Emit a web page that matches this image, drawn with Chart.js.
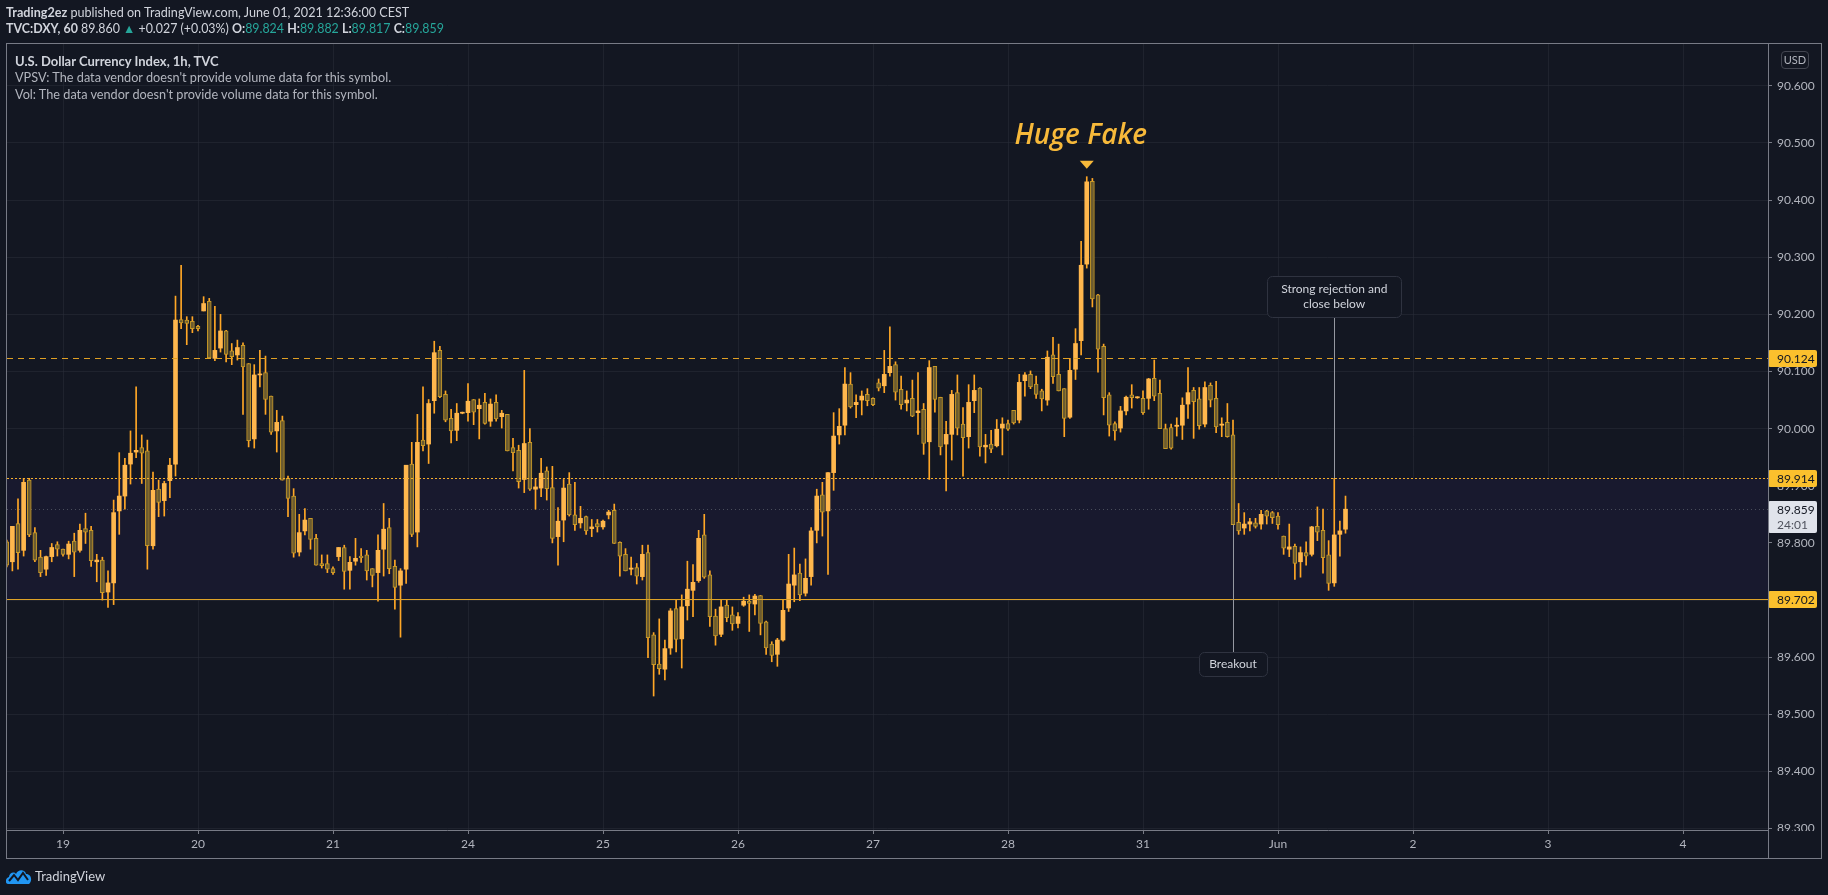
<!DOCTYPE html>
<html lang="en">
<head>
  <meta charset="UTF-8">
  <title>TVC:DXY 1h - Huge Fake</title>
  <script src="https://cdn.jsdelivr.net/npm/chart.js"></script>
  <style>
    body, html {
      margin: 0;
      padding: 0;
      background: #131722;
      overflow: hidden;
    }

    .wrap {
      position: relative;
      width: 1828px;
      height: 895px;
      font-family: Lato, "Open Sans", sans-serif;
    }

    canvas {
      position: absolute;
      left: 0;
      top: 0;
    }

    .txt {
      position: absolute;
      white-space: nowrap;
      font-size: 13px;
      line-height: 16px;
      color: #d1d4dc;
    }

    .hdr { font-size: 12.6px; }
    .txt b { font-weight: 700; }
    .up { color: #26a69a; }
    .dim { color: #b2b5be; font-size: 12.7px; }

    .usd {
      position: absolute;
      left: 1781px;
      top: 51px;
      width: 26px;
      height: 16px;
      border: 1px solid #434651;
      border-radius: 4px;
      color: #b2b5be;
      font-size: 11px;
      line-height: 16px;
      text-align: center;
    }

    .logo {
      position: absolute;
      left: 6px;
      top: 868px;
      display: flex;
      align-items: center;
      gap: 3px;
      color: #d1d4dc;
      font-size: 13px;
    }
  </style>
</head>
<body>
  <div class="wrap">
    <canvas id="chart" width="1828" height="895"></canvas>

    <div class="txt hdr" style="left:6px; top:5px"><b>Trading2ez</b> published on TradingView.com, June 01, 2021 12:36:00 CEST</div>
    <div class="txt hdr" style="left:6px; top:21px; font-size:12.4px"><b>TVC:DXY, 60</b> 89.860 <span class="up">&#9650;</span> +0.027 (+0.03%) <b>O:</b><span class="up">89.824</span> <b>H:</b><span class="up">89.882</span> <b>L:</b><span class="up">89.817</span> <b>C:</b><span class="up">89.859</span></div>

    <div class="txt" style="left:15px; top:53px; font-weight:700">U.S. Dollar Currency Index, 1h, TVC</div>
    <div class="txt dim" style="left:15px; top:69px">VPSV: The data vendor doesn't provide volume data for this symbol.</div>
    <div class="txt dim" style="left:15px; top:86px">Vol: The data vendor doesn't provide volume data for this symbol.</div>

    <div class="usd">USD</div>

    <div class="logo">
      <svg width="26" height="16" viewBox="0 0 26 16">
        <path d="M2 16 C-1 16 -1 10 3 9 C3 5 8 3 10 6 C12 1 19 1 20 6 C25 6 27 12 23 16 Z" fill="#2196f3"/>
        <polyline points="3,13 8,7 12,12 17,5 22,12" fill="none" stroke="#131722" stroke-width="2"/>
      </svg>
      <span>TradingView</span>
    </div>
  </div>

  <script>
    // hourly bars, bar 0 = May 19 00:00, so the first one is May 18 14:00
    const firstBar = -10;

    const openPrices = [
      89.802, 89.767, 89.834, 89.787, 89.910, 89.818, 89.775, 89.754, 89.776, 89.797, 89.789, 89.780,
      89.803, 89.787, 89.825, 89.822, 89.767, 89.770, 89.714, 89.730, 89.856, 89.882, 89.938, 89.959,
      89.967, 89.961, 89.795, 89.894, 89.874, 89.909, 89.938, 90.191, 90.190, 90.188, 90.179, 90.206,
      90.223, 90.123, 90.141, 90.171, 90.136, 90.129, 90.146, 90.114, 89.982, 90.094, 90.098, 90.057,
      89.996, 90.014, 89.913, 89.882, 89.784, 89.821, 89.843, 89.808, 89.764, 89.764, 89.755, 89.776,
      89.792, 89.752, 89.768, 89.777, 89.779, 89.755, 89.748, 89.789, 89.827, 89.759, 89.726, 89.754,
      89.938, 89.819, 89.980, 89.973, 90.049, 90.137, 90.060, 90.018, 89.997, 90.027, 90.028, 90.051,
      90.035, 90.046, 90.013, 90.046, 90.021, 90.025, 89.967, 89.962, 89.911, 89.976, 89.894, 89.896,
      89.926, 89.897, 89.811, 89.840, 89.903, 89.849, 89.835, 89.846, 89.825, 89.834, 89.828, 89.849,
      89.857, 89.801, 89.780, 89.754, 89.757, 89.741, 89.783, 89.639, 89.588, 89.579, 89.616, 89.685,
      89.632, 89.690, 89.717, 89.734, 89.814, 89.744, 89.672, 89.640, 89.691, 89.674, 89.659, 89.691,
      89.698, 89.693, 89.708, 89.662, 89.623, 89.605, 89.630, 89.686, 89.726, 89.747, 89.712, 89.741,
      89.822, 89.884, 89.856, 89.923, 89.989, 90.006, 90.078, 90.042, 90.050, 90.060, 90.053, 90.080,
      90.075, 90.098, 90.112, 90.069, 90.045, 90.053, 90.028, 90.034, 89.977, 90.109, 90.055, 89.973,
      89.990, 90.063, 90.008, 89.986, 90.049, 90.071, 89.968, 89.973, 89.970, 90.001, 90.009, 90.032,
      90.015, 90.084, 90.095, 90.078, 90.066, 90.050, 90.129, 90.095, 90.070, 90.020, 90.104, 90.154,
      90.288, 90.433, 90.234, 90.144, 90.059, 90.009, 90.001, 90.031, 90.059, 90.054, 90.053, 90.053,
      90.088, 90.062, 90.000, 90.002, 90.004, 90.006, 90.043, 90.067, 90.052, 90.008, 90.076, 90.053,
      90.006, 90.011, 89.989, 89.836, 89.826, 89.833, 89.835, 89.833, 89.856, 89.853, 89.847, 89.812,
      89.789, 89.794, 89.767, 89.783, 89.780, 89.829, 89.822, 89.779, 89.730, 89.815, 89.824
    ];

    const highPrices = [
      89.805, 89.829, 89.877, 89.913, 89.913, 89.827, 89.787, 89.777, 89.799, 89.802, 89.789, 89.803,
      89.817, 89.833, 89.852, 89.829, 89.780, 89.775, 89.751, 89.875, 89.958, 89.948, 89.996, 90.073,
      89.989, 89.980, 89.924, 89.910, 89.908, 89.948, 90.232, 90.286, 90.196, 90.196, 90.181, 90.231,
      90.228, 90.214, 90.200, 90.172, 90.149, 90.155, 90.150, 90.114, 90.112, 90.137, 90.127, 90.057,
      90.032, 90.022, 89.917, 89.895, 89.850, 89.860, 89.843, 89.815, 89.779, 89.779, 89.758, 89.792,
      89.796, 89.776, 89.808, 89.790, 89.787, 89.755, 89.814, 89.869, 89.843, 89.770, 89.755, 89.936,
      89.976, 90.025, 90.073, 90.051, 90.153, 90.144, 90.066, 90.034, 90.044, 90.029, 90.079, 90.051,
      90.052, 90.062, 90.052, 90.059, 90.032, 90.025, 89.983, 89.971, 90.102, 90.000, 89.913, 89.948,
      89.933, 89.934, 89.862, 89.911, 89.923, 89.906, 89.864, 89.847, 89.841, 89.841, 89.840, 89.857,
      89.868, 89.802, 89.790, 89.775, 89.764, 89.796, 89.796, 89.643, 89.667, 89.630, 89.685, 89.700,
      89.709, 89.768, 89.762, 89.822, 89.850, 89.751, 89.684, 89.701, 89.701, 89.688, 89.678, 89.705,
      89.709, 89.710, 89.708, 89.663, 89.627, 89.633, 89.701, 89.780, 89.791, 89.763, 89.772, 89.827,
      89.894, 89.906, 89.923, 90.028, 90.035, 90.107, 90.098, 90.059, 90.066, 90.070, 90.054, 90.087,
      90.137, 90.178, 90.117, 90.092, 90.066, 90.085, 90.098, 90.044, 90.119, 90.109, 90.055, 90.013,
      90.067, 90.094, 90.037, 90.077, 90.094, 90.072, 89.990, 89.997, 90.016, 90.019, 90.015, 90.032,
      90.095, 90.098, 90.101, 90.092, 90.069, 90.136, 90.160, 90.148, 90.070, 90.123, 90.175, 90.328,
      90.441, 90.438, 90.235, 90.148, 90.063, 90.012, 90.039, 90.057, 90.077, 90.056, 90.066, 90.088,
      90.120, 90.085, 90.008, 90.008, 90.019, 90.054, 90.107, 90.072, 90.072, 90.082, 90.080, 90.083,
      90.019, 90.044, 90.015, 89.869, 89.853, 89.843, 89.843, 89.857, 89.857, 89.855, 89.853, 89.812,
      89.833, 89.798, 89.793, 89.802, 89.829, 89.863, 89.859, 89.804, 89.913, 89.838, 89.882
    ];

    const lowPrices = [
      89.758, 89.751, 89.754, 89.777, 89.811, 89.767, 89.741, 89.743, 89.767, 89.777, 89.777, 89.772,
      89.741, 89.784, 89.799, 89.759, 89.732, 89.700, 89.687, 89.692, 89.815, 89.859, 89.903, 89.949,
      89.904, 89.754, 89.789, 89.846, 89.847, 89.879, 89.917, 90.175, 90.147, 90.168, 90.171, 90.206,
      90.123, 90.119, 90.134, 90.117, 90.112, 90.120, 90.025, 89.968, 89.966, 90.073, 90.025, 89.990,
      89.959, 89.910, 89.846, 89.775, 89.777, 89.814, 89.789, 89.761, 89.756, 89.748, 89.745, 89.769,
      89.719, 89.719, 89.761, 89.766, 89.735, 89.723, 89.698, 89.742, 89.746, 89.684, 89.635, 89.729,
      89.811, 89.793, 89.961, 89.939, 90.027, 90.054, 90.012, 89.975, 89.979, 90.026, 90.013, 90.007,
      89.982, 90.008, 90.004, 90.013, 90.001, 89.961, 89.926, 89.896, 89.888, 89.892, 89.859, 89.881,
      89.875, 89.800, 89.761, 89.802, 89.847, 89.822, 89.826, 89.815, 89.811, 89.819, 89.824, 89.842,
      89.799, 89.742, 89.751, 89.744, 89.728, 89.735, 89.599, 89.532, 89.570, 89.560, 89.605, 89.609,
      89.581, 89.665, 89.671, 89.731, 89.738, 89.654, 89.621, 89.636, 89.662, 89.647, 89.651, 89.689,
      89.645, 89.674, 89.639, 89.605, 89.592, 89.584, 89.628, 89.680, 89.697, 89.699, 89.707, 89.726,
      89.800, 89.812, 89.745, 89.892, 89.973, 89.989, 90.036, 90.019, 90.024, 90.040, 90.040, 90.066,
      90.063, 90.092, 90.050, 90.034, 90.031, 90.021, 89.990, 89.955, 89.911, 90.029, 89.954, 89.891,
      89.945, 89.989, 89.917, 89.966, 90.028, 89.952, 89.940, 89.958, 89.968, 89.954, 89.997, 90.008,
      90.010, 90.057, 90.070, 90.053, 90.031, 90.041, 90.079, 90.066, 89.986, 90.018, 90.086, 90.129,
      90.281, 90.213, 90.099, 90.024, 89.987, 89.980, 89.994, 90.024, 90.036, 90.053, 90.025, 90.034,
      90.049, 90.000, 89.965, 89.964, 89.987, 89.981, 90.018, 89.983, 89.999, 90.003, 90.038, 89.993,
      89.986, 89.985, 89.832, 89.815, 89.815, 89.821, 89.826, 89.824, 89.833, 89.834, 89.824, 89.780,
      89.776, 89.736, 89.740, 89.761, 89.777, 89.804, 89.747, 89.717, 89.724, 89.777, 89.817
    ];

    const closePrices = [
      89.761, 89.829, 89.783, 89.906, 89.814, 89.770, 89.748, 89.776, 89.792, 89.789, 89.780, 89.798,
      89.784, 89.822, 89.819, 89.769, 89.770, 89.713, 89.730, 89.853, 89.882, 89.936, 89.957, 89.962,
      89.957, 89.795, 89.892, 89.871, 89.904, 89.936, 90.190, 90.185, 90.184, 90.175, 90.175, 90.219,
      90.124, 90.137, 90.171, 90.130, 90.126, 90.142, 90.108, 89.979, 90.094, 90.095, 90.051, 89.994,
      90.011, 89.910, 89.878, 89.782, 89.818, 89.840, 89.806, 89.761, 89.760, 89.754, 89.748, 89.792,
      89.750, 89.766, 89.773, 89.774, 89.751, 89.743, 89.787, 89.824, 89.755, 89.722, 89.751, 89.936,
      89.815, 89.976, 89.970, 90.044, 90.133, 90.056, 90.015, 89.996, 90.027, 90.028, 90.048, 90.029,
      90.041, 90.009, 90.043, 90.017, 90.027, 89.961, 89.958, 89.907, 89.974, 89.894, 89.898, 89.922,
      89.895, 89.808, 89.838, 89.896, 89.849, 89.832, 89.843, 89.821, 89.828, 89.828, 89.838, 89.854,
      89.799, 89.777, 89.751, 89.756, 89.742, 89.780, 89.634, 89.587, 89.580, 89.615, 89.681, 89.631,
      89.688, 89.719, 89.731, 89.808, 89.740, 89.671, 89.637, 89.688, 89.669, 89.658, 89.671, 89.698,
      89.694, 89.707, 89.659, 89.616, 89.603, 89.630, 89.682, 89.728, 89.744, 89.709, 89.738, 89.821,
      89.882, 89.854, 89.923, 89.987, 90.004, 90.078, 90.038, 90.046, 90.057, 90.049, 90.042, 90.071,
      90.095, 90.109, 90.064, 90.042, 90.050, 90.022, 90.031, 89.974, 90.107, 90.051, 89.968, 89.990,
      90.060, 90.001, 89.984, 90.046, 90.067, 89.968, 89.971, 89.964, 89.999, 90.008, 89.999, 90.010,
      90.081, 90.094, 90.073, 90.060, 90.052, 90.125, 90.091, 90.066, 90.018, 90.102, 90.149, 90.286,
      90.432, 90.227, 90.139, 90.054, 90.006, 89.996, 90.031, 90.055, 90.054, 90.055, 90.028, 90.087,
      90.057, 90.000, 89.965, 89.966, 90.006, 90.041, 90.063, 90.047, 90.005, 90.072, 90.050, 90.003,
      90.008, 89.986, 89.832, 89.821, 89.833, 89.837, 89.829, 89.850, 89.847, 89.844, 89.832, 89.791,
      89.793, 89.764, 89.783, 89.777, 89.828, 89.819, 89.774, 89.729, 89.814, 89.821, 89.859
    ];

    // time axis: bar where each day starts, and its label
    const dayBars = [0, 24, 48, 72, 96, 120, 144, 168, 192, 216, 240, 264, 288];
    const dayLabels = ['19', '20', '21', '24', '25', '26', '27', '28', '31', 'Jun', '2', '3', '4'];

    const priceTicks = [89.3, 89.4, 89.5, 89.6, 89.7, 89.8, 89.9, 90.0, 90.1, 90.2, 90.3, 90.4, 90.5, 90.6];

    // drawn levels
    const resistanceLevel = 90.124;
    const zoneTop = 89.914;
    const zoneBottom = 89.702;
    const lastPrice = 89.859;
    const countdown = '24:01';

    // annotations (bar index + price)
    const fakeBar = 182;
    const rejectionBar = 226;
    const rejectionBoxPrice = 90.231;
    const breakoutBar = 208;
    const breakoutBoxPrice = 89.588;

    const UP_COLOR = '#ffb74d';
    const DOWN_FILL = '#6b5b30';
    const DOWN_LINE = '#c99a26';
    const WICK_COLOR = '#ffa726';
    const GRID = 'rgba(42, 46, 57, 0.55)';
    const AXIS = '#787b86';
    const LEVEL = '#f5b12a';

    Chart.defaults.font.family = 'Lato, "Open Sans", sans-serif';

    const barX = openPrices.map((o, k) => firstBar + k);
    const isUp = closePrices.map((c, k) => c >= openPrices[k]);

    function hline(ctx, area, py, color, dash, width) {
      const yy = Math.round(py) + 0.5;
      ctx.save();
      ctx.strokeStyle = color;
      ctx.lineWidth = width || 1;
      ctx.setLineDash(dash);
      ctx.beginPath();
      ctx.moveTo(area.left, yy);
      ctx.lineTo(area.right, yy);
      ctx.stroke();
      ctx.restore();
    }

    function roundBox(ctx, x, y, w, h, r) {
      ctx.beginPath();
      ctx.moveTo(x + r, y);
      ctx.arcTo(x + w, y, x + w, y + h, r);
      ctx.arcTo(x + w, y + h, x, y + h, r);
      ctx.arcTo(x, y + h, x, y, r);
      ctx.arcTo(x, y, x + w, y, r);
      ctx.closePath();
    }

    function priceTag(ctx, scale, left, value, bg, fg) {
      const py = scale.getPixelForValue(value);
      ctx.fillStyle = bg;
      roundBox(ctx, left, Math.round(py) - 8, 49, 17, 2);
      ctx.fill();
      ctx.fillStyle = fg;
      ctx.font = '12px Lato';
      ctx.textBaseline = 'middle';
      ctx.textAlign = 'left';
      ctx.fillText(value.toFixed(3), left + 9, Math.round(py) + 1);
    }

    function callout(ctx, cx, cy, lines, w, h) {
      ctx.fillStyle = '#131722';
      ctx.strokeStyle = '#2f3340';
      ctx.lineWidth = 1;
      roundBox(ctx, Math.round(cx - w / 2) + 0.5, Math.round(cy - h / 2) + 0.5, w, h, 5);
      ctx.fill();
      ctx.stroke();
      ctx.fillStyle = '#d1d4dc';
      ctx.font = '12px Lato';
      ctx.textAlign = 'center';
      ctx.textBaseline = 'middle';
      const step = 15;
      const y0 = cy - (lines.length - 1) * step / 2;
      lines.forEach((t, k) => ctx.fillText(t, cx, y0 + k * step));
    }

    function vline(ctx, px, y1, y2) {
      ctx.strokeStyle = '#9598a1';
      ctx.lineWidth = 1;
      ctx.beginPath();
      ctx.moveTo(Math.round(px) + 0.5, y1);
      ctx.lineTo(Math.round(px) + 0.5, y2);
      ctx.stroke();
    }

    const overlay = {
      id: 'overlay',
      beforeDatasetsDraw(chart) {
        const { ctx, chartArea: a, scales: { y } } = chart;
        ctx.save();
        const zt = y.getPixelForValue(zoneTop);
        const zb = y.getPixelForValue(zoneBottom);
        ctx.fillStyle = '#18192e';
        ctx.fillRect(a.left, zt, a.right - a.left, zb - zt);
        hline(ctx, a, y.getPixelForValue(lastPrice), '#4a4e5c', [1, 3]);
        ctx.restore();
      },
      afterDatasetsDraw(chart) {
        const { ctx, chartArea: a, scales: { x, y } } = chart;
        ctx.save();
        ctx.beginPath();
        ctx.rect(a.left, a.top, a.right - a.left, a.bottom - a.top);
        ctx.clip();

        hline(ctx, a, y.getPixelForValue(resistanceLevel), '#e0a023', [6, 5]);
        hline(ctx, a, y.getPixelForValue(zoneTop), LEVEL, [2, 2]);
        // solid zone floor, drawn as a thin filled strip
        ctx.fillStyle = 'rgb(222, 162, 40)';
        ctx.fillRect(a.left, Math.round(y.getPixelForValue(zoneBottom)), a.right - a.left, 1);

        // Huge Fake marker
        const fx = x.getPixelForValue(fakeBar);
        const fy = y.getPixelForValue(highPrices[fakeBar - firstBar]);
        ctx.fillStyle = '#f7b93a';
        ctx.beginPath();
        ctx.moveTo(fx - 7, fy - 16);
        ctx.lineTo(fx + 7, fy - 16);
        ctx.lineTo(fx, fy - 8);
        ctx.closePath();
        ctx.fill();
        ctx.font = 'italic 600 28px "Open Sans"';
        ctx.textAlign = 'center';
        ctx.textBaseline = 'alphabetic';
        ctx.fillText('Huge Fake', fx - 6, fy - 33);

        // rejection callout
        const rx = x.getPixelForValue(rejectionBar);
        const ry = y.getPixelForValue(rejectionBoxPrice);
        vline(ctx, rx, ry + 20, y.getPixelForValue(highPrices[rejectionBar - firstBar]));
        callout(ctx, rx, ry, ['Strong rejection and', 'close below'], 134, 41);

        // breakout callout
        const bx = x.getPixelForValue(breakoutBar);
        const by = y.getPixelForValue(breakoutBoxPrice);
        vline(ctx, bx, y.getPixelForValue(lowPrices[breakoutBar - firstBar]), by - 12);
        callout(ctx, bx, by, ['Breakout'], 68, 24);

        ctx.restore();
      },
      afterDraw(chart) {
        const { ctx, chartArea: a, scales: { y } } = chart;
        ctx.save();
        // corner under the price axis
        ctx.fillStyle = '#131722';
        ctx.fillRect(a.right + 1, a.bottom + 1, 60, 30);

        priceTag(ctx, y, a.right, resistanceLevel, '#fbc02d', '#131722');
        priceTag(ctx, y, a.right, zoneTop, '#fbc02d', '#131722');
        priceTag(ctx, y, a.right, zoneBottom, '#fbc02d', '#131722');

        // last price + countdown
        const ly = Math.round(y.getPixelForValue(lastPrice));
        ctx.fillStyle = '#e0e3eb';
        roundBox(ctx, a.right, ly - 8, 49, 32, 2);
        ctx.fill();
        ctx.fillStyle = '#131722';
        ctx.font = '12px Lato';
        ctx.textAlign = 'left';
        ctx.textBaseline = 'middle';
        ctx.fillText(lastPrice.toFixed(3), a.right + 9, ly + 1);
        ctx.fillStyle = '#50535e';
        ctx.fillText(countdown, a.right + 9, ly + 16);

        // outer frame
        ctx.strokeStyle = AXIS;
        ctx.lineWidth = 1;
        ctx.strokeRect(6.5, 43.5, 1815, 815);
        ctx.beginPath();
        ctx.moveTo(Math.round(a.right) + 0.5, 43);
        ctx.lineTo(Math.round(a.right) + 0.5, 858);
        ctx.stroke();
        ctx.restore();
      }
    };

    const ctx = document.getElementById('chart').getContext('2d');

    new Chart(ctx, {
      type: 'bar',
      data: {
        datasets: [
          {
            label: 'body',
            data: barX.map((x, k) => ({ x: x, y: [openPrices[k], closePrices[k]] })),
            backgroundColor: isUp.map(u => u ? UP_COLOR : DOWN_FILL),
            borderColor: isUp.map(u => u ? UP_COLOR : DOWN_LINE),
            borderWidth: isUp.map(u => u ? 0 : 1),
            borderSkipped: false,
            barThickness: 4,
            minBarLength: 1,
            grouped: false
          },
          {
            label: 'wick',
            data: barX.map((x, k) => ({ x: x, y: [lowPrices[k], highPrices[k]] })),
            backgroundColor: WICK_COLOR,
            borderWidth: 0,
            barThickness: 1,
            minBarLength: 1,
            grouped: false
          }
        ]
      },
      options: {
        responsive: false,
        animation: false,
        layout: { padding: { left: 7, top: 43, right: 6, bottom: 37 } },
        plugins: {
          legend: { display: false },
          tooltip: { enabled: false }
        },
        scales: {
          x: {
            type: 'linear',
            offset: false,
            min: -9.956,
            max: 303.11,
            afterBuildTicks: s => { s.ticks = dayBars.map(v => ({ value: v })); },
            afterFit: s => { s.height = 28; },
            ticks: {
              callback: v => dayLabels[dayBars.indexOf(v)],
              color: '#b2b5be',
              font: { size: 12 },
              maxRotation: 0,
              autoSkip: false,
              padding: 3
            },
            grid: { color: GRID, tickColor: AXIS, tickLength: 4, offset: false },
            border: { color: AXIS }
          },
          y: {
            position: 'right',
            min: 89.2975,
            max: 90.675,
            afterBuildTicks: s => { s.ticks = priceTicks.map(v => ({ value: v })); },
            afterFit: s => { s.width = 54; },
            ticks: {
              callback: v => v.toFixed(3),
              color: '#b2b5be',
              font: { size: 12 },
              padding: 5
            },
            grid: { color: GRID, tickColor: AXIS, tickLength: 4 },
            border: { color: AXIS }
          }
        }
      },
      plugins: [overlay]
    });
  </script>
</body>
</html>
